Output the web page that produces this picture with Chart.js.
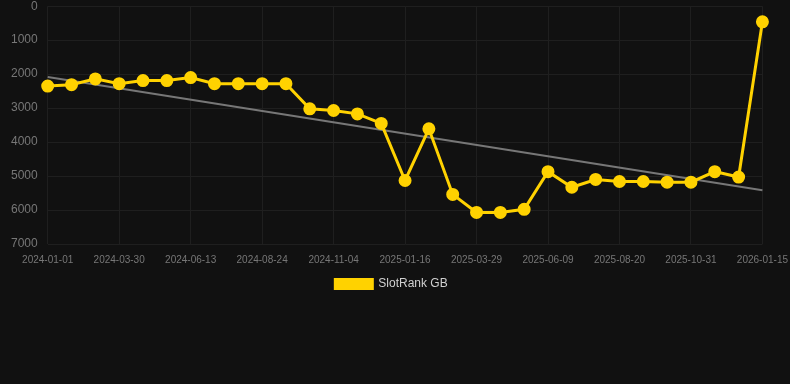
<!DOCTYPE html>
<html>
<head>
<meta charset="utf-8">
<script src="https://cdn.jsdelivr.net/npm/chart.js@4"></script>
<style>
    html, body { margin: 0; padding: 0; background: #111111; overflow: hidden; }
    #wrap { width: 798px; height: 311px; margin-top: -11px; }
</style>
</head>
<body>
<div id="wrap"><canvas id="rankChart"></canvas></div>
<script>
const dates = [
    '2024-01-01', '2024-01-31', '2024-03-01', '2024-03-30', '2024-04-24', '2024-05-19',
    '2024-06-13', '2024-07-07', '2024-07-31', '2024-08-24', '2024-09-17', '2024-10-11',
    '2024-11-04', '2024-11-28', '2024-12-22', '2025-01-16', '2025-02-09', '2025-03-05',
    '2025-03-29', '2025-04-22', '2025-05-16', '2025-06-09', '2025-07-03', '2025-07-27',
    '2025-08-20', '2025-09-13', '2025-10-07', '2025-10-31', '2025-11-26', '2025-12-21',
    '2026-01-15'
];

const rankGB = [
    2350, 2310, 2140, 2280, 2190, 2190,
    2100, 2280, 2280, 2280, 2280, 3020,
    3070, 3170, 3450, 5130, 3610, 5540,
    6070, 6070, 5980, 4870, 5330, 5100,
    5160, 5160, 5180, 5180, 4870, 5030,
    460
];

// trend line end values
const trendStart = 2085;
const trendEnd = 5420;
const trend = dates.map((d, i) => i === 0 ? trendStart : (i === dates.length - 1 ? trendEnd : null));

// nudge the legend a bit to the left, like the original
const legendShift = {
    id: 'legendShift',
    afterUpdate(chart) {
        chart.legend.left -= 8;
        chart.legend.right -= 8;
    }
};

const ctx = document.getElementById('rankChart').getContext('2d');
new Chart(ctx, {
    type: 'line',
    data: {
        labels: dates,
        datasets: [
            {
                label: 'SlotRank GB',
                data: rankGB,
                borderColor: '#ffd200',
                backgroundColor: '#ffd200',
                borderWidth: 3,
                pointRadius: 5,
                pointHoverRadius: 6,
                fill: false,
                tension: 0
            },
            {
                label: 'Trend',
                data: trend,
                borderColor: '#777777',
                borderWidth: 2,
                pointRadius: 0,
                spanGaps: true,
                fill: false
            }
        ]
    },
    options: {
        responsive: true,
        maintainAspectRatio: false,
        animation: false,
        layout: { padding: { left: 1 } },
        plugins: {
            legend: {
                position: 'bottom',
                labels: {
                    color: '#d0d0d0',
                    font: { family: 'Liberation Sans, Arial', size: 12 },
                    boxWidth: 37,
                    boxHeight: 9,
                    padding: 2,
                    filter: item => item.datasetIndex === 0
                }
            },
            tooltip: { enabled: false }
        },
        scales: {
            x: {
                grid: { color: '#1f1f1f', drawTicks: false },
                border: { display: false },
                ticks: {
                    color: '#777777',
                    font: { family: 'Liberation Sans, Arial', size: 10 },
                    maxRotation: 0,
                    autoSkip: true,
                    maxTicksLimit: 11,
                    padding: 10
                }
            },
            y: {
                reverse: true,
                min: 0,
                max: 7000,
                grid: { color: '#1f1f1f', drawTicks: false },
                border: { display: false },
                ticks: {
                    stepSize: 1000,
                    color: '#777777',
                    font: { family: 'Liberation Sans, Arial', size: 12 },
                    padding: 10,
                    callback: v => String(v)
                }
            }
        }
    },
    plugins: [legendShift]
});
</script>
</body>
</html>
